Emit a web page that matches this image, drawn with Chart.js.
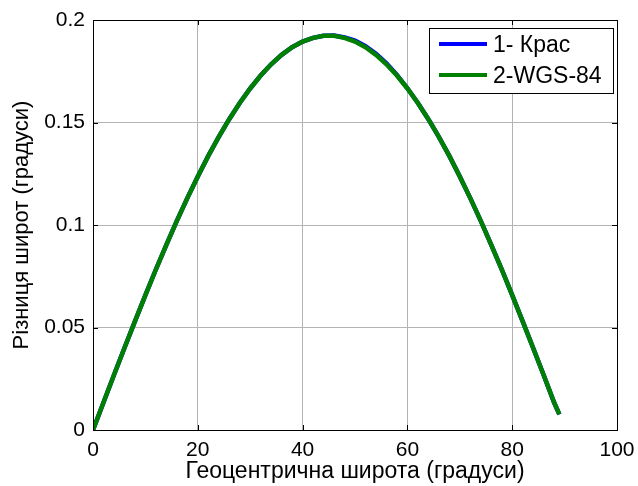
<!DOCTYPE html>
<html>
<head>
<meta charset="utf-8">
<script src="https://cdn.jsdelivr.net/npm/chart.js@4/dist/chart.umd.min.js"></script>
<style>
  html, body { margin: 0; padding: 0; background: #ffffff; }
  #wrap { width: 638px; height: 486px; position: relative; }
</style>
</head>
<body>
<div id="wrap"><canvas id="c" width="638" height="486"></canvas></div>
<script>
// ---- data ----
const latitudes = [0,2,4,6,8,10,12,14,16,18,20,22,24,26,28,30,32,34,36,38,40,42,44,46,48,50,52,54,56,58,60,62,64,66,68,70,72,74,76,78,80,82,84,86,88,89];
const krasovsky = [0,0.0134,0.0268,0.0400,0.0530,0.0658,0.0783,0.0903,0.1020,0.1131,0.1237,0.1337,0.1430,0.1516,0.1595,0.1666,0.1729,0.1784,0.1830,0.1867,0.1895,0.1913,0.1923,0.1924,0.1915,0.1899,0.1872,0.1835,0.1789,0.1732,0.1667,0.1595,0.1516,0.1430,0.1337,0.1237,0.1131,0.1020,0.0903,0.0783,0.0658,0.0530,0.0400,0.0268,0.0134,0.0076];
const wgs84 = [0,0.0134,0.0268,0.0400,0.0530,0.0658,0.0783,0.0903,0.1020,0.1131,0.1237,0.1337,0.1430,0.1516,0.1595,0.1666,0.1729,0.1784,0.1830,0.1867,0.1895,0.1913,0.1923,0.1923,0.1913,0.1895,0.1867,0.1830,0.1784,0.1729,0.1666,0.1595,0.1516,0.1430,0.1337,0.1237,0.1131,0.1020,0.0903,0.0783,0.0658,0.0530,0.0400,0.0268,0.0134,0.0076];
const seriesLabels = ['1- Крас', '2-WGS-84'];
const xTicks = [0, 20, 40, 60, 80, 100];
const yTicks = [0, 0.05, 0.1, 0.15, 0.2];
const yTickLabels = ['0', '0.05', '0.1', '0.15', '0.2'];
const xTitle = 'Геоцентрична широта (градуси)';
const yTitle = 'Різниця широт (градуси)';

const FONT = '"Liberation Sans", Arial, sans-serif';
const colors = ['#0000ff', '#008000'];

const boxPlugin = {
  id: 'matlabBox',
  afterDraw(chart) {
    const {ctx, chartArea: a, scales: {x, y}} = chart;
    ctx.save();
    // inner ticks
    ctx.strokeStyle = '#000';
    ctx.lineWidth = 1;
    ctx.beginPath();
    xTicks.forEach(v => {
      const px = Math.round(x.getPixelForValue(v)) + 0.5;
      ctx.moveTo(px, a.bottom); ctx.lineTo(px, a.bottom - 5);
      ctx.moveTo(px, a.top); ctx.lineTo(px, a.top + 5);
    });
    yTicks.forEach(v => {
      const py = Math.round(y.getPixelForValue(v)) + 0.5;
      ctx.moveTo(a.left, py); ctx.lineTo(a.left + 5, py);
      ctx.moveTo(a.right, py); ctx.lineTo(a.right - 5, py);
    });
    ctx.stroke();
    // box
    ctx.strokeRect(Math.round(a.left) + 0.5, Math.round(a.top) + 0.5,
                   Math.round(a.right - a.left), Math.round(a.bottom - a.top));
    // legend
    const lx = Math.round(a.right) - 188, ly = Math.round(a.top) + 8, lw = 184, lh = 65;
    ctx.fillStyle = '#fff';
    ctx.fillRect(lx, ly, lw, lh);
    ctx.strokeRect(lx + 0.5, ly + 0.5, lw, lh);
    ctx.font = '23px ' + FONT;
    ctx.textBaseline = 'middle';
    chart.data.datasets.forEach((ds, i) => {
      const yy = ly + 16 + i * 31;
      ctx.strokeStyle = ds.borderColor;
      ctx.lineWidth = 4;
      ctx.beginPath();
      ctx.moveTo(lx + 10, yy); ctx.lineTo(lx + 58, yy);
      ctx.stroke();
      ctx.fillStyle = '#000';
      ctx.fillText(ds.label, lx + 64, yy + 2);
    });
    ctx.restore();
  }
};

new Chart(document.getElementById('c'), {
  type: 'line',
  data: {
    datasets: [
      { label: seriesLabels[0], data: latitudes.map((v, i) => ({x: v, y: krasovsky[i]})),
        borderColor: colors[0], borderWidth: 4.5, pointRadius: 0, tension: 0, order: 2 },
      { label: seriesLabels[1], data: latitudes.map((v, i) => ({x: v, y: wgs84[i]})),
        borderColor: colors[1], borderWidth: 4.5, pointRadius: 0, tension: 0, order: 1 }
    ]
  },
  options: {
    responsive: false,
    animation: false,
    devicePixelRatio: 1,
    layout: { padding: { left: 0, top: 20, right: 21, bottom: 0 } },
    plugins: { legend: { display: false }, tooltip: { enabled: false } },
    scales: {
      x: {
        type: 'linear', min: 0, max: 100,
        afterBuildTicks: s => { s.ticks = xTicks.map(v => ({value: v})); },
        afterFit: s => { s.height = 56; s.paddingLeft = 0; s.paddingRight = 0; },
        grid: { color: '#b4b4b4', lineWidth: 1, drawTicks: false },
        border: { display: false },
        ticks: { color: '#000', font: { size: 21, family: FONT }, padding: 8, maxRotation: 0,
                 callback: v => String(v) },
        title: { display: true, text: xTitle, color: '#000', font: { size: 23, family: FONT },
                 padding: { top: 0, bottom: 1 } }
      },
      y: {
        type: 'linear', min: 0, max: 0.2,
        afterBuildTicks: s => { s.ticks = yTicks.map(v => ({value: v})); },
        afterFit: s => { s.width = 93; s.paddingTop = 0; s.paddingBottom = 0; },
        grid: { color: '#b4b4b4', lineWidth: 1, drawTicks: false },
        border: { display: false },
        ticks: { color: '#000', font: { size: 21, family: FONT }, padding: 8,
                 callback: (v) => { const k = yTicks.indexOf(v); return k >= 0 ? yTickLabels[k] : ''; } },
        title: { display: true, text: yTitle, color: '#000', font: { size: 22, family: FONT },
                 padding: { top: 9, bottom: 0 } }
      }
    }
  },
  plugins: [boxPlugin]
});
</script>
</body>
</html>
